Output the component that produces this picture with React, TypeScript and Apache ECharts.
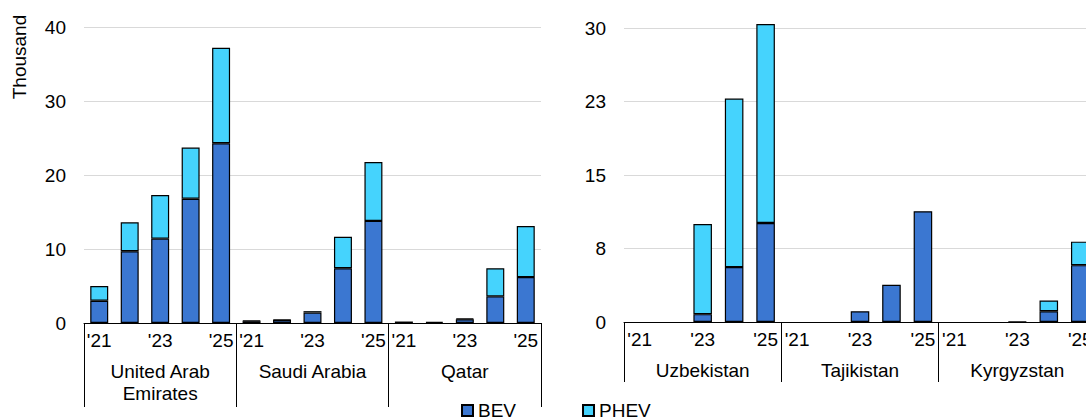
import React, { useEffect, useRef } from "react";
import * as echarts from "echarts";

const years = ["'21", "'22", "'23", "'24", "'25"];
const leftGroups = ["United Arab\nEmirates", "Saudi Arabia", "Qatar"];
const rightGroups = ["Uzbekistan", "Tajikistan", "Kyrgyzstan"];

const leftBEV = [3.0, 9.7, 11.4, 16.8, 24.3, 0.25, 0.4, 1.4, 7.4, 13.8, 0.2, 0.15, 0.5, 3.6, 6.2];
const leftPHEV = [2.0, 3.9, 5.9, 6.9, 12.9, 0.05, 0.05, 0.2, 4.25, 7.95, null, null, 0.1, 3.8, 6.9];

const rightBEV = [null, null, 0.8, 5.6, 10.1, null, null, 1.1, 3.8, 11.3, null, null, 0.05, 1.1, 5.8];
const rightPHEV = [null, null, 9.2, 17.2, 20.3, null, null, null, null, null, null, null, null, 1.1, 2.4];

const leftTicks = { min: 0, max: 40, interval: 10 };
const rightTicks = { min: 0, max: 30, interval: 7.5 };

const BEV_COLOR = "#3B77D1";
const PHEV_COLOR = "#45D3FD";
const FONT = "Liberation Sans, Arial, sans-serif";

const cats = (groups: string[]) => groups.flatMap(() => years.map((y) => y));

export default function App() {
  const ref = useRef<HTMLDivElement>(null);
  useEffect(() => {
    if (!ref.current) return;
    const chart = echarts.init(ref.current, undefined, { renderer: "svg" });
    const txt = { color: "#000", fontSize: 19, fontFamily: FONT };
    const yearAxis = (gridIndex: number, groups: string[]) => ({
      type: "category",
      gridIndex,
      position: "bottom",
      data: cats(groups),
      axisLine: { show: true, lineStyle: { color: "#000", width: 1 } },
      axisTick: { show: false },
      axisLabel: {
        ...txt,
        margin: 8,
        interval: (i: number) => (i % 5) % 2 === 0,
      },
      splitLine: { show: false },
    });
    const groupAxis = (gridIndex: number, groups: string[], tickLen: number) => ({
      type: "category",
      gridIndex,
      position: "bottom",
      data: groups,
      axisLine: { show: false },
      axisTick: { show: true, length: tickLen, lineStyle: { color: "#000", width: 1 } },
      axisLabel: { ...txt, margin: 37, lineHeight: 22, interval: 0 },
      splitLine: { show: false },
    });
    const valAxis = (gridIndex: number, t: any, fmt?: (v: number) => string) => ({
      type: "value",
      gridIndex,
      ...t,
      axisLine: { show: false },
      axisTick: { show: false },
      axisLabel: { ...txt, margin: 18, formatter: fmt },
      splitLine: { show: true, lineStyle: { color: "#D9D9D9", width: 1 } },
    });
    const bar = (name: string, data: any[], color: string, axis: number) => ({
      name,
      type: "bar",
      stack: "s" + axis,
      xAxisIndex: axis === 0 ? 0 : 2,
      yAxisIndex: axis,
      data,
      clip: false,
      barCategoryGap: "41%",
      itemStyle: { color, borderColor: "#000", borderWidth: 1.2 },
    });
    chart.setOption({
      animation: false,
      textStyle: { fontFamily: FONT },
      grid: [
        { left: 84, top: 27, width: 457, height: 296 },
        { left: 624, top: 28, width: 472, height: 294 },
      ],
      xAxis: [
        yearAxis(0, leftGroups),
        groupAxis(0, leftGroups, 84),
        yearAxis(1, rightGroups),
        groupAxis(1, rightGroups, 60),
      ],
      yAxis: [
        valAxis(0, leftTicks),
        valAxis(1, rightTicks, (v: number) => String(Math.round(v))),
      ],
      legend: {
        data: ["BEV", "PHEV"],
        left: 456,
        top: 396,
        icon: "rect",
        itemWidth: 11,
        itemHeight: 11,
        itemGap: 66,
        textStyle: { ...txt },
      },
      graphic: [
        {
          type: "text",
          x: 19,
          y: 57,
          rotation: Math.PI / 2,
          style: { text: "Thousand", ...txt, fill: "#000", align: "center", verticalAlign: "middle" },
        },
      ],
      series: [
        bar("BEV", leftBEV, BEV_COLOR, 0),
        bar("PHEV", leftPHEV, PHEV_COLOR, 0),
        bar("BEV", rightBEV, BEV_COLOR, 1),
        bar("PHEV", rightPHEV, PHEV_COLOR, 1),
      ],
    });
    return () => chart.dispose();
  }, []);
  return (
    <div style={{ position: "fixed", left: 0, top: 0, width: 1086, height: 419, overflow: "hidden", background: "#fff" }}>
      <div ref={ref} style={{ width: 1120, height: 419 }} />
    </div>
  );
}
